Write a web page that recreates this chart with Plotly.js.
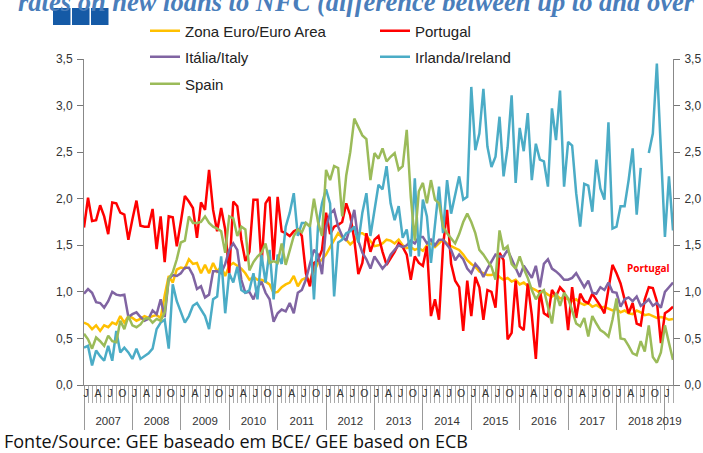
<!DOCTYPE html>
<html><head><meta charset="utf-8">
<script src="https://cdn.plot.ly/plotly-3.0.1.min.js"></script>
<style>html,body{margin:0;padding:0;background:#fff}#chart{width:703px;height:453px}</style>
</head><body><div id="chart"></div>
<script>
// ---- data (monthly, Jan 2007 .. Mar 2019) ----
const years = [2007,2008,2009,2010,2011,2012,2013,2014,2015,2016,2017,2018,2019];
const monthLetters = ['J','A','J','O']; // Jan, Abr, Jul, Out
const seriesNames = ['Zona Euro/Euro Area','Portugal','Itália/Italy','Irlanda/Ireland','Spain'];

const euroArea = [
0.67,0.65,0.60,0.64,0.58,0.64,0.62,0.67,0.65,0.74,0.67,0.74,
0.72,0.69,0.71,0.74,0.72,0.74,0.75,0.72,0.96,1.17,1.10,1.24,
1.26,1.25,1.35,1.30,1.31,1.20,1.29,1.20,1.31,1.22,1.27,1.17,
1.28,1.31,1.28,1.25,1.20,1.13,1.16,1.13,1.13,1.11,1.08,0.99,
1.00,1.05,1.08,1.10,1.17,1.06,1.13,1.15,1.12,1.22,1.31,1.35,
1.40,1.48,1.55,1.63,1.58,1.56,1.51,1.55,1.63,1.63,1.60,1.55,
1.49,1.50,1.52,1.56,1.55,1.52,1.56,1.50,1.47,1.48,1.45,1.47,
1.44,1.50,1.52,1.48,1.52,1.56,1.52,1.49,1.47,1.45,1.40,1.34,
1.30,1.27,1.22,1.20,1.18,1.18,1.20,1.16,1.13,1.15,1.11,1.13,
1.08,1.10,1.06,1.04,1.02,0.99,1.00,0.97,0.95,0.97,0.93,0.94,
0.92,0.90,0.92,0.88,0.86,0.88,0.84,0.86,0.83,0.84,0.82,0.80,
0.82,0.78,0.80,0.77,0.76,0.80,0.78,0.75,0.76,0.74,0.72,0.73,
0.72,0.70,0.71];
const portugal = [
1.69,2.01,1.76,1.77,1.93,1.81,1.62,1.96,1.95,1.85,1.83,1.56,
1.78,1.98,1.71,1.70,1.70,1.89,1.46,1.81,1.32,1.81,1.80,1.49,
1.75,2.03,1.97,1.90,1.58,1.96,1.88,2.31,1.88,1.65,1.90,1.67,
1.20,1.97,1.92,1.56,1.33,1.43,1.99,1.99,1.29,1.95,2.02,1.34,
2.02,1.65,1.63,1.60,1.65,1.67,1.60,1.20,1.06,1.31,1.34,1.45,
1.85,1.62,1.70,1.72,1.75,1.95,1.82,1.56,1.19,1.31,1.63,1.43,
1.56,1.60,1.43,1.29,1.36,1.43,1.52,1.48,1.40,1.13,1.38,1.31,
1.28,1.49,0.74,0.92,0.70,1.49,1.88,1.30,1.12,1.05,0.58,1.12,
0.74,1.16,1.05,0.70,1.02,1.00,0.83,1.42,1.34,0.49,0.56,1.12,
0.63,0.59,1.09,0.75,0.28,1.02,0.77,0.74,1.02,0.95,1.05,1.00,
0.59,1.05,0.72,0.98,0.90,0.88,0.98,0.92,0.85,0.77,1.05,1.29,
1.20,1.09,0.92,0.77,0.88,0.66,0.64,0.92,1.05,1.04,0.90,0.45,
0.77,0.80,0.84];
const italy = [
0.98,1.03,0.99,0.89,0.88,0.83,0.90,1.00,0.97,0.96,0.97,0.73,
0.76,0.78,0.73,0.69,0.71,0.80,0.76,0.92,0.73,1.14,1.18,1.17,
1.20,1.26,1.26,1.18,1.03,1.06,0.94,0.97,1.22,1.22,1.20,1.30,
1.45,1.52,1.45,1.13,0.99,1.00,0.92,1.04,1.11,0.99,0.92,0.68,
0.77,0.81,0.79,0.88,0.77,0.99,1.02,1.13,1.30,1.45,1.40,1.19,
1.70,1.84,1.88,1.70,1.60,1.55,1.70,1.88,1.55,1.42,1.35,1.25,
1.38,1.32,1.25,1.30,1.40,1.45,1.50,1.48,1.50,1.55,1.52,1.59,
1.59,1.52,1.56,1.50,1.56,1.56,1.50,1.45,1.34,1.40,1.35,1.25,
1.20,1.30,1.25,1.16,1.25,1.32,1.40,1.38,1.38,1.45,1.35,1.25,
1.16,1.28,1.22,1.15,1.28,1.05,1.30,1.35,1.25,1.22,1.18,1.13,
1.13,1.15,1.20,1.12,1.05,1.12,0.99,0.98,1.05,1.02,1.10,1.00,
0.99,0.84,0.92,0.94,0.90,0.95,0.85,0.88,0.92,0.85,0.88,0.83,
1.00,1.05,1.10];
const ireland = [
0.40,0.42,0.21,0.37,0.31,0.26,0.42,0.26,0.58,0.35,0.40,0.35,
0.28,0.39,0.28,0.31,0.34,0.39,0.60,0.67,0.70,0.39,1.08,0.90,
0.78,0.67,0.74,0.85,0.88,0.81,0.74,0.60,0.92,0.95,1.38,0.77,
1.20,1.10,1.27,1.02,0.99,1.02,1.20,0.92,1.40,1.10,1.45,0.92,
1.40,1.30,1.70,1.85,2.06,1.60,1.74,1.74,1.70,0.92,1.70,1.95,
2.10,1.95,0.95,1.53,1.56,1.63,1.65,1.70,1.53,1.85,2.06,1.60,
1.88,2.15,2.10,2.35,1.95,1.77,1.92,1.58,1.67,1.38,2.22,1.38,
1.99,1.81,1.31,1.75,2.13,1.63,2.20,1.84,2.05,2.24,1.99,2.02,
3.20,2.52,2.70,3.18,2.56,2.34,2.45,2.88,2.24,2.55,3.11,2.17,
2.76,2.51,2.92,2.20,2.59,2.42,2.40,2.13,2.97,2.63,3.16,2.13,
2.61,2.57,2.06,1.70,2.16,2.14,1.86,2.42,2.11,1.99,2.82,1.68,
1.70,1.92,1.92,2.20,2.54,1.83,2.33,null,2.49,2.70,3.45,2.50,
1.59,2.24,1.66];
const spain = [
0.55,0.49,0.39,0.51,0.47,0.42,0.53,0.47,0.46,0.69,0.60,0.74,
0.64,0.62,0.65,0.71,0.72,0.67,0.71,0.69,0.78,1.14,1.21,1.35,
1.53,1.55,1.81,1.74,1.74,1.75,1.81,1.74,1.70,1.68,1.65,1.42,
1.81,1.79,1.60,1.70,1.67,1.23,1.32,1.38,1.42,1.52,1.31,1.33,
1.31,1.52,1.29,1.45,1.60,1.67,1.64,1.74,1.70,2.00,1.75,1.60,
2.31,2.20,2.35,2.33,1.81,2.25,2.50,2.86,2.76,2.68,2.64,2.20,
2.49,2.43,2.54,2.40,2.45,2.49,2.31,2.35,2.74,2.02,1.55,2.08,
2.17,1.95,2.20,1.99,1.95,1.70,1.63,1.58,1.52,1.62,1.75,1.84,
1.75,1.63,1.45,1.40,1.34,1.27,1.13,1.66,1.45,1.49,1.30,1.25,
1.38,1.25,1.15,1.02,0.92,0.99,1.02,0.85,0.66,0.99,0.85,0.99,
0.93,0.80,0.66,0.63,0.72,0.52,0.74,0.66,0.59,0.56,0.52,0.70,
0.93,0.50,0.49,0.42,0.34,0.32,0.47,0.36,0.64,0.30,0.24,0.35,
0.64,0.45,0.27];

// ---- geometry helpers ----
const W = 703, H = 453;
const M = {l:84, r:30, t:59, b:68};
const pw = W - M.l - M.r, ph = H - M.t - M.b;
const px = x => (x - M.l) / pw;           // pixel -> paper x
const py = y => (H - M.b - y) / ph;        // pixel -> paper y

const n = portugal.length;
const idx = Array.from({length:n}, (_, i) => i);
const xr = [0, n - 1];

const yearStarts = years.map((y, j) => j * 12).filter(v => v < n);
const yearCenters = yearStarts.map(s => (s + Math.min(s + 12, n - 1)) / 2);
const monthVals = [], monthText = [];
idx.forEach(i => { if (i % 3 === 0) { monthVals.push(i + 0.5); monthText.push(monthLetters[(i % 12) / 3]); } });

const colors = ['#FFC000', '#FF0000', '#8064A2', '#4BACC6', '#9BBB59'];
const allSeries = [euroArea, portugal, italy, ireland, spain];
const legendOf = ['legend', 'legend', 'legend2', 'legend2', 'legend3'];

const traces = allSeries.map((s, k) => ({
  x: idx, y: s, type: 'scatter', mode: 'lines', name: seriesNames[k],
  line: {color: colors[k], width: 2.5}, connectgaps: false,
  legend: legendOf[k], hoverinfo: 'skip'
}));
// empty helper traces so the extra axes are drawn
traces.push({x: [], y: [], xaxis: 'x2', yaxis: 'y', showlegend: false, hoverinfo: 'skip'});
traces.push({x: [], y: [], xaxis: 'x3', yaxis: 'y', showlegend: false, hoverinfo: 'skip'});
traces.push({x: [], y: [], xaxis: 'x', yaxis: 'y2', showlegend: false, hoverinfo: 'skip'});

const txt = '#333';
const baseFont = 'Liberation Sans, Arial, sans-serif';
const legendBase = {
  orientation: 'h', xanchor: 'left', yanchor: 'middle', x: px(145),
  entrywidth: 185, entrywidthmode: 'pixels', bgcolor: 'rgba(0,0,0,0)',
  font: {family: baseFont, size: 15, color: '#222'}, traceorder: 'normal'
};

const layout = {
  width: W, height: H, margin: M, paper_bgcolor: '#fff', plot_bgcolor: '#fff',
  separators: ',.', showlegend: true,
  font: {family: baseFont, size: 12, color: txt},
  legend: Object.assign({}, legendBase, {y: py(31)}),
  legend2: Object.assign({}, legendBase, {y: py(57)}),
  legend3: Object.assign({}, legendBase, {y: py(84)}),
  xaxis: {
    range: xr, tickmode: 'array', tickvals: yearStarts, showticklabels: false,
    ticks: 'outside', ticklen: 44, tickcolor: '#999', tickwidth: 1,
    showline: true, linecolor: '#888', linewidth: 1, showgrid: false, zeroline: false,
    minor: {tickmode: 'linear', tick0: 0, dtick: 1, ticks: 'outside', ticklen: 17, tickcolor: '#aaa', tickwidth: 1, showgrid: false}
  },
  xaxis2: {
    overlaying: 'x', anchor: 'y', side: 'bottom', range: xr,
    tickmode: 'array', tickvals: monthVals, ticktext: monthText, ticks: '',
    showline: false, showgrid: false, zeroline: false,
    tickfont: {family: baseFont, size: 10.5, color: txt}
  },
  xaxis3: {
    overlaying: 'x', anchor: 'y', side: 'bottom', range: xr,
    tickmode: 'array', tickvals: yearCenters, ticktext: years.map(String),
    ticks: 'outside', ticklen: 25, tickcolor: 'rgba(0,0,0,0)',
    showline: false, showgrid: false, zeroline: false,
    tickfont: {family: baseFont, size: 11.5, color: txt}
  },
  yaxis: {
    range: [0, 3.5], tickmode: 'linear', tick0: 0, dtick: 0.5, tickformat: '.1f',
    ticks: 'outside', ticklen: 6, tickcolor: '#777', showline: true, linecolor: '#888',
    showgrid: false, zeroline: false, ticklabelstandoff: 2,
    tickfont: {family: baseFont, size: 12, color: txt}
  },
  yaxis2: {
    overlaying: 'y', side: 'right', anchor: 'x', range: [0, 3.5], tickmode: 'linear', tick0: 0, dtick: 0.5,
    tickformat: '.1f', ticks: 'outside', ticklen: 6, tickcolor: '#777', showline: true, linecolor: '#888',
    showgrid: false, zeroline: false, ticklabelstandoff: 2,
    tickfont: {family: baseFont, size: 12, color: txt}
  },
  shapes: [0, 1, 2].map(j => ({
    type: 'rect', xref: 'paper', yref: 'paper',
    x0: px(53 + j * 19), x1: px(53 + j * 19 + 17.5), y0: py(25), y1: py(8),
    fillcolor: '#155AA6', line: {width: 0}, layer: 'above'
  })),
  annotations: [
    {text: '<b><i>rates on new loans to NFC (difference between up to and over</i></b>', xref: 'paper', yref: 'paper',
     x: px(16), y: py(19), xanchor: 'left', yanchor: 'bottom', showarrow: false,
     font: {family: 'Liberation Serif, Times New Roman, serif', size: 26.5, color: '#4A7EBB'}},
    {text: 'Fonte/Source: GEE baseado em BCE/ GEE based on ECB', xref: 'paper', yref: 'paper',
     x: px(2), y: py(441), xanchor: 'left', yanchor: 'middle', showarrow: false,
     font: {family: 'Open Sans, sans-serif', size: 18, color: '#111'}},
    {text: '<b>Portugal</b>', xref: 'x', yref: 'y', x: 140, y: 1.26, xanchor: 'center', yanchor: 'middle',
     showarrow: false, font: {family: 'Open Sans, sans-serif', size: 10, color: '#FF0000'}}
  ]
};

Plotly.newPlot('chart', traces, layout, {displayModeBar: false, staticPlot: true});
</script></body></html>
